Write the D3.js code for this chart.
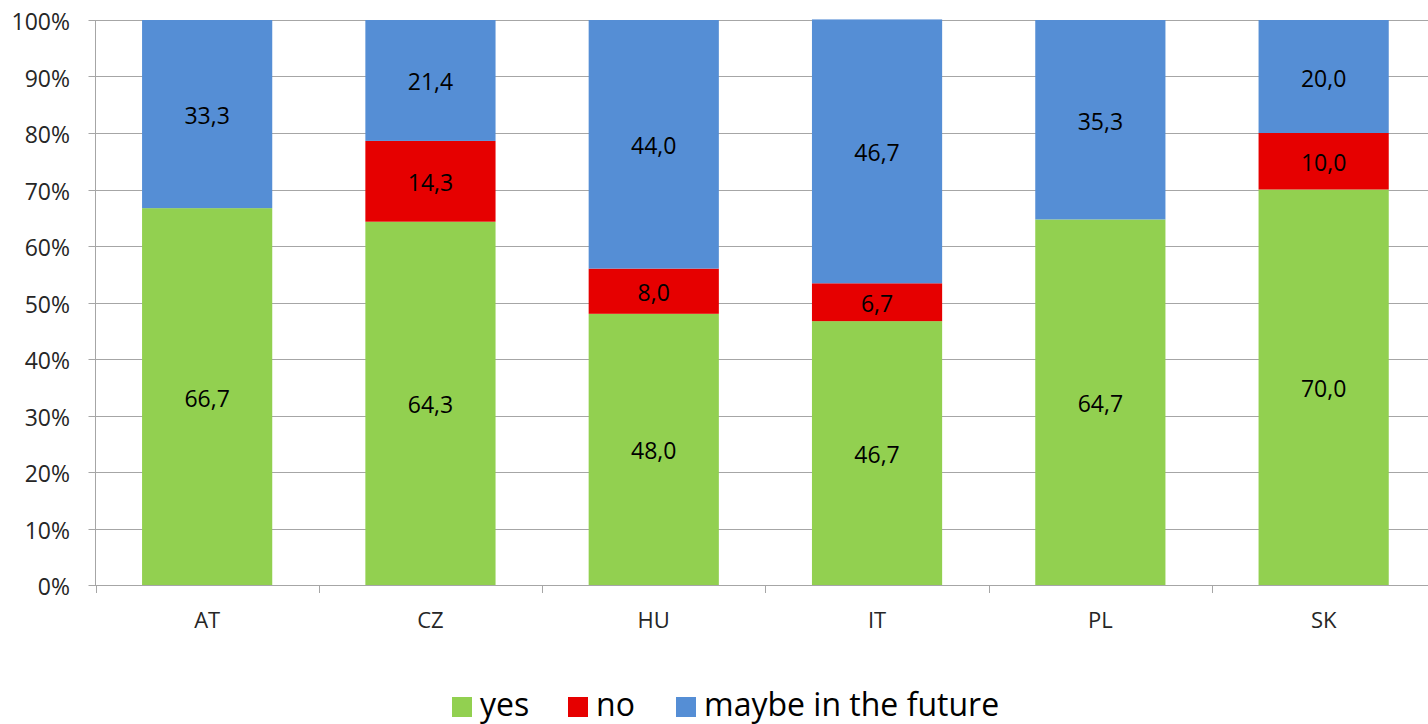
<!DOCTYPE html>
<html>
<head>
<meta charset="utf-8">
<script src="https://cdn.jsdelivr.net/npm/d3@7"></script>
<style>
  html, body { margin: 0; padding: 0; background: #fff; }
  svg { display: block; font-family: "Open Sans", sans-serif; }
</style>
</head>
<body>
<svg id="chart" width="1428" height="724"></svg>
<script>
// Survey answers by country (percent of respondents)
const countries = ["AT", "CZ", "HU", "IT", "PL", "SK"];
const yesValues = [66.7, 64.3, 48.0, 46.7, 64.7, 70.0];
const noValues = [0, 14.3, 8.0, 6.7, 0, 10.0];
const maybeValues = [33.3, 21.4, 44.0, 46.7, 35.3, 20.0];
const seriesNames = ["yes", "no", "maybe in the future"];
const seriesColors = ["#92D050", "#E60000", "#558ED5"];
const yTicks = [0, 10, 20, 30, 40, 50, 60, 70, 80, 90, 100];

const svg = d3.select("#chart");
const W = 1428, H = 724;
const plot = { left: 95.5, top: 20, bottom: 585, step: 223.3 };

const rows = countries.map((c, i) => ({
  country: c, yes: yesValues[i], no: noValues[i], maybe: maybeValues[i]
}));
const keys = ["yes", "no", "maybe"];
const stacked = d3.stack().keys(keys)(rows);

const x = d3.scaleBand()
  .domain(countries)
  .range([plot.left, plot.left + plot.step * countries.length])
  .paddingInner(0.417)
  .paddingOuter(0.2085);

const y = d3.scaleLinear().domain([0, 100]).range([plot.bottom, plot.top]);

// Horizontal gridlines
svg.append("g")
  .selectAll("line")
  .data(yTicks)
  .join("line")
  .attr("x1", plot.left - 7)
  .attr("x2", W)
  .attr("y1", d => Math.round(y(d)) + 0.5)
  .attr("y2", d => Math.round(y(d)) + 0.5)
  .attr("stroke", "#A6A6A6")
  .attr("stroke-width", 1);

// Y axis line
svg.append("line")
  .attr("x1", plot.left).attr("x2", plot.left)
  .attr("y1", plot.top).attr("y2", plot.bottom + 0.5)
  .attr("stroke", "#A6A6A6");

// Y tick labels
svg.append("g")
  .selectAll("text")
  .data(yTicks)
  .join("text")
  .attr("x", 70)
  .attr("y", d => y(d) + 1)
  .attr("text-anchor", "end")
  .attr("dominant-baseline", "central")
  .attr("font-size", 23)
  .attr("fill", "#262626")
  .text(d => d + "%");

// X category tick marks at band boundaries
const boundaries = d3.range(countries.length + 1).map(i => plot.left + i * plot.step);
svg.append("g")
  .selectAll("line")
  .data(boundaries)
  .join("line")
  .attr("x1", d => Math.round(d) + 0.5)
  .attr("x2", d => Math.round(d) + 0.5)
  .attr("y1", plot.bottom)
  .attr("y2", plot.bottom + 8)
  .attr("stroke", "#A6A6A6");

// Stacked bars
const layers = svg.append("g")
  .selectAll("g")
  .data(stacked)
  .join("g")
  .attr("fill", (d, i) => seriesColors[i]);

layers.selectAll("rect")
  .data(d => d)
  .join("rect")
  .attr("x", d => x(d.data.country))
  .attr("width", x.bandwidth())
  .attr("y", d => y(d[1]))
  .attr("height", d => y(d[0]) - y(d[1]));

// Value labels
const fmt = v => v.toFixed(1).replace(".", ",");
layers.selectAll("text")
  .data(d => d.filter(s => s[1] - s[0] > 0))
  .join("text")
  .attr("x", d => x(d.data.country) + x.bandwidth() / 2)
  .attr("y", d => y((d[0] + d[1]) / 2) + 1)
  .attr("text-anchor", "middle")
  .attr("dominant-baseline", "central")
  .attr("font-size", 23)
  .attr("fill", "#000")
  .text(d => fmt(d[1] - d[0]));

// Category labels
svg.append("g")
  .selectAll("text")
  .data(countries)
  .join("text")
  .attr("x", d => x(d) + x.bandwidth() / 2)
  .attr("y", 628)
  .attr("text-anchor", "middle")
  .attr("font-size", 22)
  .attr("fill", "#262626")
  .text(d => d);

// Legend
const legendX = [452, 568, 676];
const legend = svg.append("g")
  .selectAll("g")
  .data(seriesNames)
  .join("g")
  .attr("transform", (d, i) => `translate(${legendX[i]},0)`);
legend.append("rect")
  .attr("x", 0).attr("y", 697)
  .attr("width", 20).attr("height", 20)
  .attr("fill", (d, i) => seriesColors[i]);
legend.append("text")
  .attr("x", 28)
  .attr("y", 716)
  .attr("font-size", 32)
  .attr("fill", "#000")
  .text(d => d);
</script>
</body>
</html>
